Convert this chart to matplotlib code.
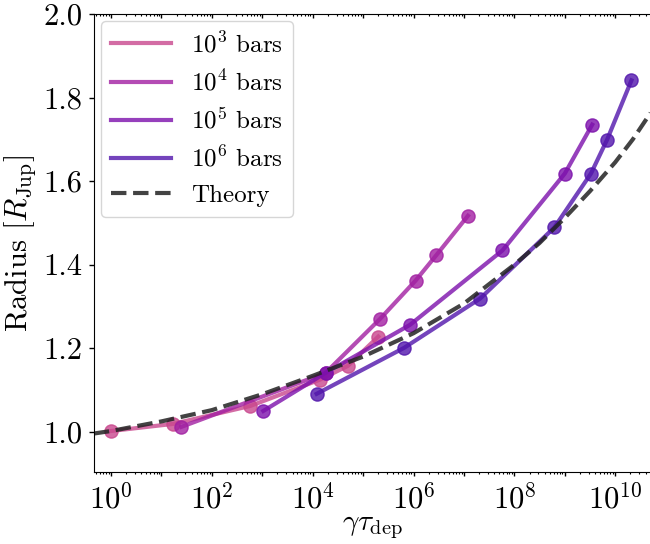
import numpy as np
import matplotlib.pyplot as plt
from matplotlib.ticker import FixedLocator, LogLocator, NullFormatter

plt.rcParams['font.family'] = 'serif'
plt.rcParams['font.serif'] = ['cmr10']
plt.rcParams['mathtext.fontset'] = 'cm'
plt.rcParams['axes.formatter.use_mathtext'] = True

# data (x = gamma * tau_dep, y = radius in R_Jup)
x_1e3 = [1.0, 17, 5.8e2, 1.4e4, 5.0e4, 2.0e5]
r_1e3 = [1.002, 1.019, 1.062, 1.125, 1.158, 1.228]

x_1e4 = [25, 1.8e4, 2.2e5, 1.1e6, 2.8e6, 1.2e7]
r_1e4 = [1.012, 1.141, 1.271, 1.362, 1.422, 1.517]

x_1e5 = [1.05e3, 1.8e4, 8.5e5, 5.8e7, 1.0e9, 3.5e9]
r_1e5 = [1.050, 1.141, 1.256, 1.434, 1.618, 1.735]

x_1e6 = [1.2e4, 6.5e5, 2.1e7, 6.2e8, 3.3e9, 6.9e9, 2.1e10]
r_1e6 = [1.091, 1.201, 1.319, 1.489, 1.618, 1.699, 1.841]

x_theory = [10**-0.34, 1, 1e1, 1e2, 1e3, 1e4, 1e5, 1e6, 1e7, 1e8, 10**8.5,
            1e9, 10**9.5, 1e10, 10**10.35, 10**10.7]
r_theory = [0.996, 1.002, 1.025, 1.052, 1.090, 1.134, 1.180, 1.236, 1.307, 1.400, 1.452,
            1.512, 1.576, 1.645, 1.700, 1.763]

labels = [r'$10^3$ bars', r'$10^4$ bars', r'$10^5$ bars', r'$10^6$ bars']
colors = ['#c9478d', '#a11fa1', '#7c10ab', '#5115ab']

fig = plt.figure(figsize=(6.5, 5.44), dpi=100)
ax = fig.add_axes([0.1446, 0.1324, 0.8554, 0.842])

series = [(x_1e3, r_1e3), (x_1e4, r_1e4), (x_1e5, r_1e5), (x_1e6, r_1e6)]
for (xs, rs), lab, c in zip(series, labels, colors):
    ax.plot(xs, rs, color=c, lw=3, alpha=0.8, label=lab)
    ax.plot(xs, rs, 'o', color=c, ms=9.5, alpha=0.8)

ax.plot(x_theory, r_theory, '--', color='#222222', lw=3, alpha=0.85, label='Theory')

ax.set_xscale('log')
ax.set_xlim(10**-0.337, 10**10.69)
ax.set_ylim(0.904, 2.0)

exps = np.arange(-1, 12)
ax.xaxis.set_major_locator(FixedLocator(10.0**exps))
ax.set_xticklabels([r'$10^{%d}$' % e if e % 2 == 0 else '' for e in exps])
ax.xaxis.set_minor_locator(LogLocator(base=10, subs=np.arange(2, 10), numticks=100))
ax.xaxis.set_minor_formatter(NullFormatter())
ax.set_yticks([1.0, 1.2, 1.4, 1.6, 1.8, 2.0])
ax.set_yticklabels(['1.0', '1.2', '1.4', '1.6', '1.8', '2.0'])

ax.tick_params(axis='both', which='major', labelsize=22, length=3, width=1, pad=5)
ax.tick_params(axis='x', which='minor', length=1.5, width=0.8)
ax.tick_params(axis='y', length=3.5)
ax.spines['right'].set_visible(False)
ax.spines['top'].set_visible(False)

top = ax.secondary_xaxis('top')
top.xaxis.set_major_locator(FixedLocator(10.0**exps))
top.xaxis.set_minor_locator(LogLocator(base=10, subs=np.arange(2, 10), numticks=100))
top.xaxis.set_major_formatter(NullFormatter())
top.xaxis.set_minor_formatter(NullFormatter())
top.tick_params(which='major', direction='in', length=3, width=1)
top.tick_params(which='minor', direction='in', length=1.5, width=0.8)

ax.set_xlabel(r'$\gamma\tau_{\rm dep}$', fontsize=21, labelpad=0)
ax.set_ylabel(r'Radius [$R_{\rm Jup}$]', fontsize=22, labelpad=4)

ax.legend(loc='upper left', fontsize=18, handlelength=2.4, handletextpad=0.8,
          borderaxespad=0.3, labelspacing=0.5)

fig.savefig('out.png', dpi=100)
